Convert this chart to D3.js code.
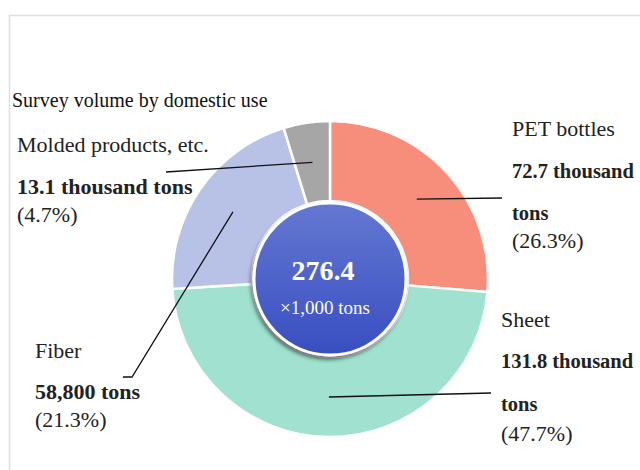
<!DOCTYPE html>
<html>
<head>
<meta charset="utf-8">
<script src="https://cdn.jsdelivr.net/npm/d3@7"></script>
<style>
  html, body { margin: 0; padding: 0; background: #fff; }
  svg { display: block; font-family: "Liberation Serif", "Times New Roman", serif; }
</style>
</head>
<body>
<svg id="chart" width="640" height="470"></svg>
<script>
// ---- data ----
const title = "Survey volume by domestic use";
const categories = ["PET bottles", "Sheet", "Fiber", "Molded products, etc."];
const values = [72.7, 131.8, 58.8, 13.1];           // thousand tons
const valueLabels = [["72.7 thousand", "tons"], ["131.8 thousand", "tons"], ["58,800 tons"], ["13.1 thousand tons"]];
const percentLabels = ["(26.3%)", "(47.7%)", "(21.3%)", "(4.7%)"];
const colors = ["#f78e7c", "#a0e2cf", "#b8c2e7", "#a6a6a6"];
const totalLabel = "276.4";
const unitLabel = "\u00d71,000 tons";

// ---- layout ----
const svg = d3.select("#chart");
const cx = 330, cy = 279, outerR = 158, innerR = 78;

// frame border
svg.append("rect").attr("x", 9.5).attr("y", 15.5).attr("width", 700).attr("height", 500)
  .attr("fill", "none").attr("stroke", "#dedede").attr("stroke-width", 1.5);

const defs = svg.append("defs");
const grad = defs.append("linearGradient").attr("id", "blueGrad")
  .attr("x1", 0).attr("y1", 0).attr("x2", 0).attr("y2", 1);
grad.append("stop").attr("offset", "0%").attr("stop-color", "#6478d2");
grad.append("stop").attr("offset", "100%").attr("stop-color", "#384ec0");
const filt = defs.append("filter").attr("id", "shadow")
  .attr("x", "-20%").attr("y", "-20%").attr("width", "140%").attr("height", "140%");
filt.append("feDropShadow").attr("dx", -1.5).attr("dy", 3).attr("stdDeviation", 2)
  .attr("flood-color", "#000").attr("flood-opacity", 0.6);

const g = svg.append("g").attr("transform", `translate(${cx},${cy})`);

const pie = d3.pie().sort(null).value(d => d)(values);
const arc = d3.arc().innerRadius(innerR).outerRadius(outerR);

g.selectAll("path.slice").data(pie).join("path")
  .attr("class", "slice")
  .attr("d", arc)
  .attr("fill", (d, i) => colors[i])
  .attr("stroke", "#fff").attr("stroke-width", 2.5).attr("stroke-linejoin", "round");

// center circle
g.append("circle").attr("r", 76).attr("fill", "url(#blueGrad)")
  .attr("stroke", "#fff").attr("stroke-width", 3).attr("filter", "url(#shadow)");
g.append("text").attr("x", -7).attr("y", 1).attr("text-anchor", "middle")
  .attr("fill", "#fff").attr("font-weight", "bold").attr("font-size", 28).text(totalLabel);
g.append("text").attr("x", -5).attr("y", 35).attr("text-anchor", "middle")
  .attr("fill", "#fff").attr("font-size", 19).text(unitLabel);

// leader lines (start at slice centroids)
const lineEnds = [
  [[502, 198]],
  [[491, 393]],
  [[132, 377], [123, 377]],
  [[166, 172]]
];
pie.forEach((d, i) => {
  const c = arc.centroid(d);
  const pts = [[cx + c[0], cy + c[1]]].concat(lineEnds[i]);
  svg.append("path").attr("d", d3.line()(pts))
    .attr("fill", "none").attr("stroke", "#111").attr("stroke-width", 1.3);
});

// title
svg.append("text").attr("x", 12).attr("y", 107).attr("font-size", 20).attr("fill", "#111").text(title);

// labels
const labelPos = [
  { x: 512, y: [136, 178, 220, 248], bold: 20.5 },
  { x: 501, y: [327, 368, 411, 441], bold: 20.5 },
  { x: 35,  y: [358, 399, 427], bold: 22 },
  { x: 17,  y: [152, 194, 222], bold: 22 }
];
categories.forEach((name, i) => {
  const p = labelPos[i];
  let k = 0;
  svg.append("text").attr("x", p.x).attr("y", p.y[k++]).attr("font-size", 22).attr("fill", "#222").text(name);
  valueLabels[i].forEach(t => {
    svg.append("text").attr("x", p.x).attr("y", p.y[k++]).attr("font-size", p.bold)
      .attr("font-weight", "bold").attr("fill", "#222").text(t);
  });
  svg.append("text").attr("x", p.x).attr("y", p.y[k++]).attr("font-size", 22).attr("fill", "#222").text(percentLabels[i]);
});
</script>
</body>
</html>
